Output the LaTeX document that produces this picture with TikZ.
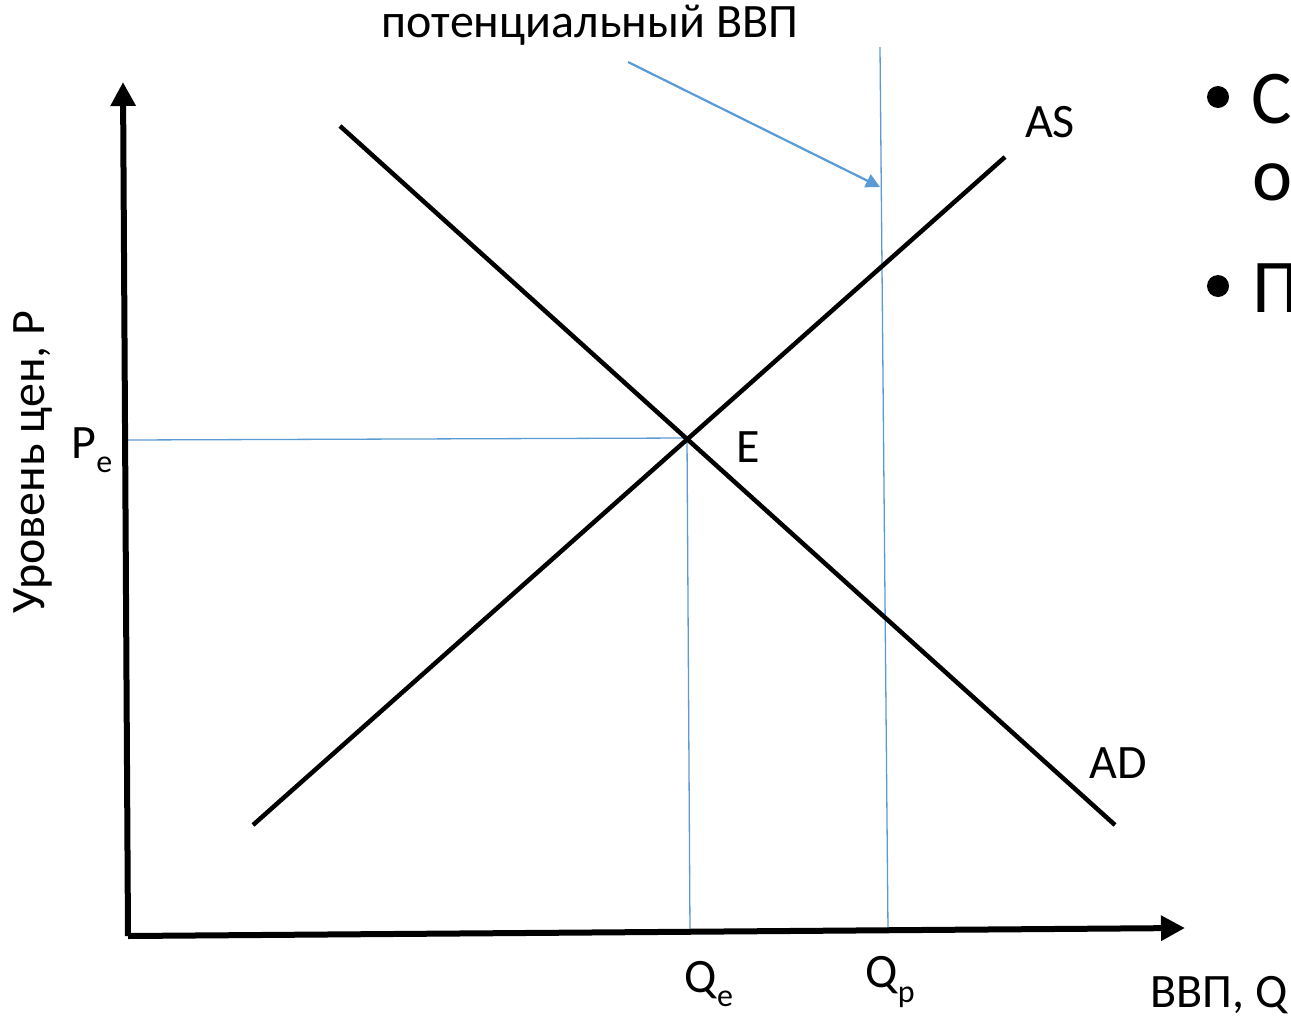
\documentclass[tikz,border=0pt]{standalone}
\usepackage{fontspec}
\setmainfont{Carlito}
\usetikzlibrary{arrows.meta}
\definecolor{lblue}{RGB}{91,155,213}
\newcommand{\subx}[1]{\raisebox{-0.3em}{\fontsize{32}{34}\selectfont #1}}
\begin{document}
\begin{tikzpicture}[x=1pt,y=-1pt,
  axis/.style={line width=6pt,-{Triangle[length=24pt,width=24pt]}},
  curve/.style={line width=4.5pt},
  guide/.style={lblue,line width=1.3pt},
  lbl/.style={font=\fontsize{48}{52}\selectfont,inner sep=0pt},
  big/.style={font=\fontsize{76}{80}\selectfont,inner sep=0pt,anchor=base west},
  dot/.style={circle,fill=black,inner sep=0pt,minimum size=22pt}]
\useasboundingbox (0,0) rectangle (1291,1020);
% coordinates
\coordinate (O) at (128,936);
\coordinate (Ytop) at (123,82);
\coordinate (Xend) at (1185,928);
\coordinate (ADs) at (340,126);
\coordinate (ADe) at (1115,825);
\coordinate (ASs) at (253,825);
\coordinate (ASe) at (1005,157);
\coordinate (E) at (687,438);
\coordinate (Pe) at (128,440);
\coordinate (Qe) at (690,932);
\coordinate (Ptop) at (880,47);
\coordinate (Pbot) at (888,930);
\coordinate (Astart) at (628,62);
\coordinate (Aend) at (880,187);
% guide lines
\draw[guide] (Pe) -- (E);
\draw[guide] (E) -- (Qe);
\draw[guide] (Ptop) -- (Pbot);
\draw[lblue,line width=2.2pt,-{Triangle[length=14pt,width=14pt]}] (Astart) -- (Aend);
% curves
\draw[curve] (ADs) -- (ADe);
\draw[curve] (ASs) -- (ASe);
% axes
\draw[axis] (O) -- (Ytop);
\draw[axis] (O) -- (Xend);
% labels
\node[lbl] (tpot) at (590,25) {потенциальный ВВП};
\node[lbl] (tAS) at (1050,122) {AS};
\node[lbl] (tAD) at (1118,763) {AD};
\node[lbl] (tE) at (748,447) {E};
\node[lbl] (tPe) at (92,450) {P\subx{e}};
\node[lbl] (tQe) at (709,984) {Q\subx{e}};
\node[lbl] (tQp) at (890,982) {Q\subx{p}};
\node[lbl,anchor=west] (tX) at (1150,995) {ВВП, Q};
\node[lbl,rotate=90] (tY) at (33,462) {Уровень цен, P};
% bullets
\node[dot] (d1) at (1218,97) {};
\node[big] (b1) at (1251,123) {С};
\node[big] (b1b) at (1252,200) {о};
\node[dot] (d2) at (1218,286) {};
\node[big] (b2) at (1252,312) {П};
\end{tikzpicture}
\end{document}
